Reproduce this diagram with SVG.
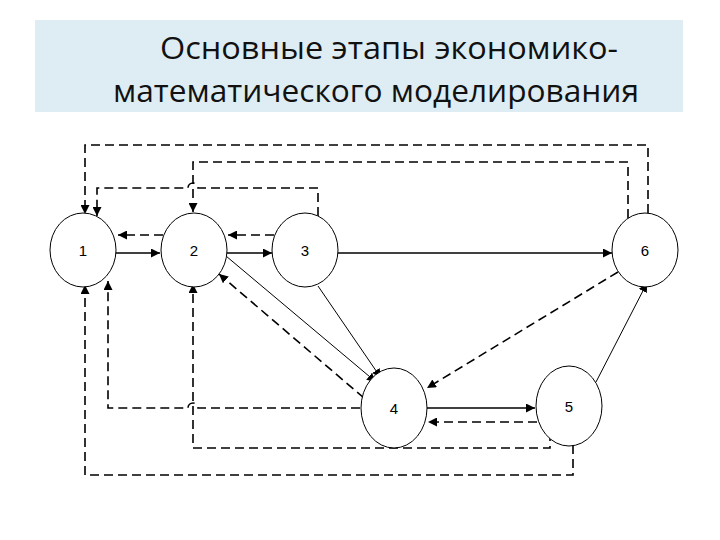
<svg xmlns="http://www.w3.org/2000/svg" width="720" height="540" viewBox="0 0 720 540">
<defs>
<marker id="ah" viewBox="0 0 10 10" refX="10" refY="5" markerWidth="9" markerHeight="9" markerUnits="userSpaceOnUse" orient="auto"><path d="M0,0L10,5L0,10z" fill="#000"/></marker>
</defs>
<style>
.n ellipse{fill:#fff;stroke:#000;stroke-width:1}
.n text{font-family:"Liberation Sans",Arial,sans-serif;font-size:15px;text-anchor:middle}
.s{fill:none;stroke:#000;stroke-width:1.3;marker-end:url(#ah)}
.t{fill:none;stroke:#000;stroke-width:1;marker-end:url(#ah)}
.da{fill:none;stroke:#000;stroke-width:1.6;stroke-dasharray:9,5;marker-end:url(#ah)}
.title{font-family:"Open Sans","Liberation Sans",sans-serif;font-size:31px;fill:#111}
</style>
<rect x="35" y="20" width="648" height="92" fill="#deedf3"/>
<text class="title" x="160" y="59" textLength="458" lengthAdjust="spacingAndGlyphs">Основные этапы экономико-</text>
<text class="title" x="113" y="102" textLength="526" lengthAdjust="spacingAndGlyphs">математического моделирования</text>
<g id="connectors">
<path class="s" d="M116,253H160"/>
<path class="da" d="M163,235H118"/>
<path class="s" d="M227,253H272"/>
<path class="da" d="M274,235H228"/>
<path class="s" d="M338,253H612"/>
<path class="da" d="M318,216V188H198A5,5 0 0 0 188,188H97V216"/>
<path class="da" d="M628,218V162H193V212"/>
<path class="da" d="M648,213V145H85V214"/>
<path class="t" d="M226,256L376,382"/>
<path class="t" d="M318,286L381,378"/>
<path class="da" d="M364,398L219,274"/>
<path class="da" d="M618,272L427,388"/>
<path class="t" d="M596,382L647,283"/>
<path class="s" d="M425,408H535"/>
<path class="da" d="M537,422H428"/>
<path class="da" d="M360,408H198A5,5 0 0 0 188,408H108V281"/>
<path class="da" d="M550,432V448H193V284"/>
<path class="da" d="M573,445V475H85V285"/>
</g>
<g id="node1" class="n"><ellipse cx="83" cy="250" rx="33" ry="37"/><text x="83" y="256">1</text></g>
<g id="node2" class="n"><ellipse cx="194" cy="250" rx="33" ry="37"/><text x="194" y="256">2</text></g>
<g id="node3" class="n"><ellipse cx="305" cy="250" rx="33" ry="37"/><text x="305" y="256">3</text></g>
<g id="node6" class="n"><ellipse cx="645" cy="250" rx="33" ry="37"/><text x="645" y="256">6</text></g>
<g id="node4" class="n"><ellipse cx="394" cy="408" rx="33" ry="40"/><text x="394" y="414">4</text></g>
<g id="node5" class="n"><ellipse cx="569" cy="406" rx="33" ry="40"/><text x="569" y="412">5</text></g>
</svg>
